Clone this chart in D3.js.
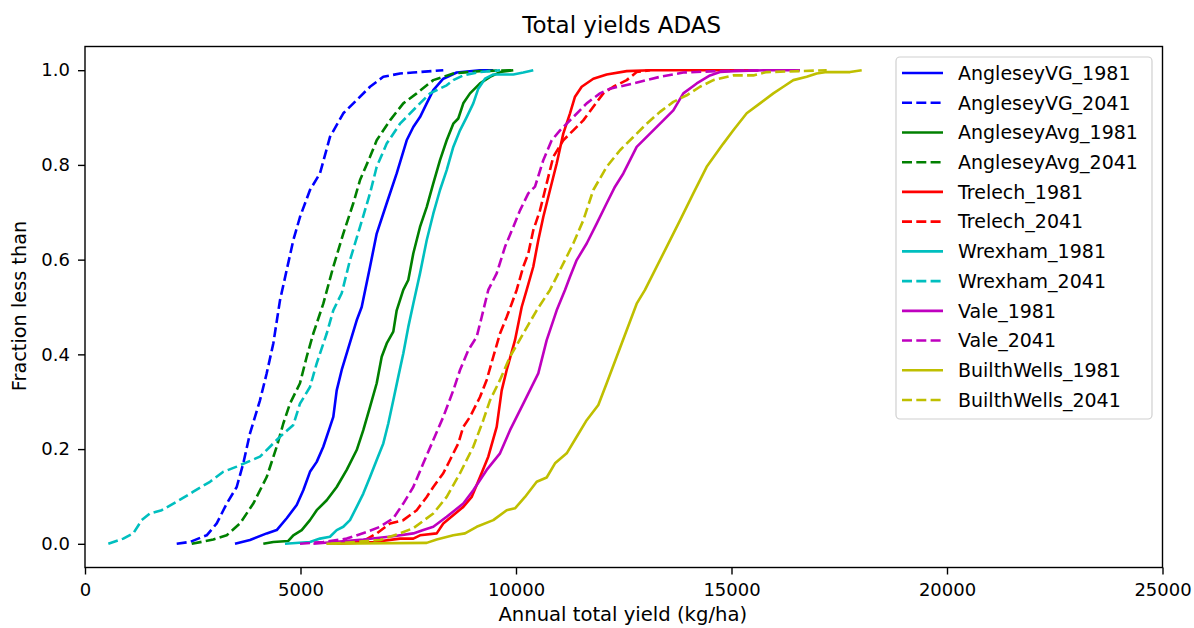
<!DOCTYPE html>
<html>
<head>
<meta charset="utf-8">
<script src="https://cdn.jsdelivr.net/npm/d3@7"></script>
<style>
  html, body { margin: 0; padding: 0; background: #fff; }
  svg { display: block; font-family: "DejaVu Sans", sans-serif; }
</style>
</head>
<body>
<svg id="chart" width="1194" height="628"></svg>
<script>
// Cumulative distributions of annual total yield: [yield kg/ha, fraction less than]
const angleseyVG1981 = [[3480,0],[3828,0.008],[4216,0.022],[4448,0.029],[4680,0.054],[4912,0.082],[5065,0.113],[5220,0.152],[5376,0.173],[5529,0.205],[5684,0.247],[5761,0.268],[5840,0.324],[5956,0.367],[6072,0.402],[6304,0.472],[6420,0.5],[6613,0.585],[6768,0.655],[7000,0.719],[7232,0.782],[7464,0.852],[7617,0.88],[7773,0.901],[7928,0.93],[8081,0.958],[8313,0.982],[8624,0.995],[9165,1],[9473,1]];
const angleseyVG2041 = [[2128,0],[2436,0.004],[2824,0.018],[3056,0.043],[3288,0.085],[3520,0.12],[3673,0.17],[3828,0.233],[4060,0.303],[4216,0.36],[4369,0.423],[4524,0.514],[4833,0.641],[4988,0.69],[5220,0.747],[5452,0.782],[5684,0.859],[5993,0.909],[6304,0.937],[6613,0.965],[6921,0.986],[7309,0.993],[7610,0.995],[8313,1]];
const angleseyAvg1981 = [[4137,0],[4369,0.004],[4717,0.006],[4833,0.018],[5028,0.029],[5220,0.05],[5376,0.071],[5608,0.092],[5840,0.12],[6072,0.156],[6304,0.198],[6457,0.24],[6613,0.289],[6768,0.339],[6884,0.395],[7000,0.423],[7153,0.448],[7232,0.493],[7385,0.536],[7501,0.557],[7617,0.613],[7773,0.669],[7928,0.711],[8081,0.761],[8237,0.81],[8392,0.852],[8545,0.887],[8661,0.898],[8777,0.93],[8933,0.951],[9165,0.972],[9397,0.986],[9629,0.996],[9937,1]];
const angleseyAvg2041 = [[2476,0],[2977,0.009],[3288,0.018],[3596,0.043],[3905,0.085],[4216,0.141],[4448,0.205],[4601,0.254],[4756,0.296],[4988,0.339],[5144,0.395],[5297,0.444],[5529,0.507],[5761,0.585],[5993,0.655],[6225,0.719],[6381,0.768],[6613,0.817],[6768,0.852],[7077,0.894],[7385,0.93],[7696,0.951],[8081,0.979],[8545,0.993],[9165,0.998],[9937,1]];
const trelech1981 = [[5840,0],[6700,0.004],[7309,0.011],[7617,0.011],[7773,0.018],[8160,0.022],[8313,0.043],[8777,0.078],[8972,0.099],[9165,0.141],[9357,0.184],[9552,0.247],[9668,0.324],[9784,0.367],[9977,0.43],[10132,0.5],[10248,0.536],[10401,0.585],[10517,0.641],[10633,0.69],[10789,0.747],[10944,0.803],[11097,0.866],[11253,0.909],[11369,0.944],[11524,0.965],[11794,0.982],[12104,0.991],[12568,0.998],[13109,1],[15622,1]];
const trelech2041 = [[5840,0],[6457,0.006],[6768,0.022],[7077,0.043],[7385,0.05],[7696,0.071],[7928,0.099],[8081,0.12],[8313,0.149],[8469,0.177],[8661,0.212],[8777,0.247],[8933,0.268],[9165,0.31],[9320,0.346],[9473,0.395],[9629,0.444],[9784,0.479],[9900,0.507],[10016,0.536],[10169,0.585],[10285,0.613],[10401,0.662],[10557,0.704],[10712,0.761],[10865,0.817],[11097,0.852],[11329,0.873],[11561,0.894],[11794,0.923],[12026,0.951],[12258,0.965],[12568,0.979],[12800,0.996],[13109,1]];
const wrexham1981 = [[4640,0],[5220,0.004],[5452,0.011],[5684,0.015],[5840,0.029],[5993,0.036],[6148,0.05],[6304,0.078],[6457,0.106],[6613,0.141],[6768,0.177],[6921,0.212],[7037,0.254],[7153,0.303],[7269,0.353],[7385,0.402],[7501,0.458],[7617,0.507],[7773,0.571],[7928,0.641],[8081,0.697],[8237,0.747],[8392,0.789],[8545,0.838],[8701,0.873],[8856,0.901],[9009,0.93],[9125,0.961],[9281,0.982],[9473,0.991],[9937,0.991],[10169,0.995],[10401,1]];
const wrexham2041 = [[541,0],[889,0.011],[1121,0.022],[1316,0.05],[1508,0.064],[1780,0.071],[2128,0.089],[2513,0.11],[2900,0.131],[3209,0.152],[3520,0.163],[4060,0.184],[4292,0.205],[4524,0.226],[4833,0.251],[4988,0.296],[5220,0.331],[5376,0.381],[5608,0.444],[5761,0.493],[5956,0.529],[6148,0.599],[6381,0.669],[6613,0.74],[6768,0.796],[7000,0.845],[7309,0.887],[7696,0.923],[8005,0.951],[8392,0.968],[8545,0.979],[8777,0.989],[9165,0.996],[9629,1]];
const vale1981 = [[5300,0],[6457,0.009],[7153,0.016],[7617,0.022],[7849,0.029],[8081,0.036],[8392,0.057],[8777,0.085],[9009,0.113],[9320,0.156],[9629,0.191],[9861,0.24],[10169,0.296],[10517,0.36],[10712,0.43],[10944,0.493],[11137,0.536],[11253,0.564],[11408,0.599],[11640,0.634],[11872,0.676],[12104,0.719],[12297,0.754],[12490,0.782],[12645,0.81],[12800,0.838],[13109,0.866],[13418,0.894],[13650,0.915],[13882,0.951],[14193,0.972],[14501,0.989],[14733,0.996],[15042,0.998],[15816,1],[16589,1]];
const vale2041 = [[4988,0],[5529,0.004],[6072,0.011],[6536,0.025],[6845,0.036],[7153,0.054],[7385,0.085],[7617,0.12],[7849,0.17],[8081,0.219],[8313,0.268],[8545,0.324],[8701,0.367],[8893,0.409],[9088,0.437],[9204,0.479],[9357,0.536],[9552,0.571],[9745,0.627],[9937,0.669],[10093,0.704],[10285,0.74],[10441,0.754],[10633,0.81],[10828,0.852],[11021,0.873],[11329,0.901],[11640,0.93],[11949,0.951],[12181,0.961],[12722,0.972],[13341,0.986],[13882,0.995],[14657,0.998],[15893,1]];
const builthWells1981 = [[5600,0],[7928,0.002],[8160,0.009],[8545,0.018],[8817,0.022],[9088,0.036],[9473,0.05],[9784,0.071],[9977,0.075],[10209,0.099],[10480,0.131],[10712,0.14],[10905,0.17],[11176,0.191],[11408,0.226],[11640,0.261],[11910,0.293],[12104,0.339],[12336,0.395],[12568,0.451],[12800,0.507],[12993,0.536],[13186,0.571],[13496,0.627],[13805,0.683],[14114,0.74],[14424,0.796],[14810,0.845],[15042,0.873],[15353,0.909],[15661,0.93],[15970,0.951],[16202,0.965],[16434,0.979],[16745,0.986],[16977,0.993],[17209,0.996],[17749,0.996],[18021,1]];
const builthWells2041 = [[5700,0],[6845,0.008],[7309,0.022],[7617,0.033],[8081,0.064],[8392,0.099],[8701,0.149],[9009,0.205],[9241,0.261],[9397,0.303],[9629,0.346],[9861,0.395],[10169,0.444],[10480,0.493],[10789,0.536],[11021,0.578],[11329,0.634],[11561,0.683],[11794,0.747],[12104,0.796],[12413,0.831],[12722,0.859],[13032,0.887],[13341,0.912],[13650,0.933],[13961,0.947],[14269,0.965],[14578,0.979],[15042,0.989],[15506,0.989],[15816,0.996],[16589,0.998],[17209,1]];

const seriesNames = ["AngleseyVG_1981","AngleseyVG_2041","AngleseyAvg_1981","AngleseyAvg_2041","Trelech_1981","Trelech_2041","Wrexham_1981","Wrexham_2041","Vale_1981","Vale_2041","BuilthWells_1981","BuilthWells_2041"];
const seriesValues = [angleseyVG1981, angleseyVG2041, angleseyAvg1981, angleseyAvg2041, trelech1981, trelech2041, wrexham1981, wrexham2041, vale1981, vale2041, builthWells1981, builthWells2041];
const xTicks = [0, 5000, 10000, 15000, 20000, 25000];
const yTicks = [0.0, 0.2, 0.4, 0.6, 0.8, 1.0];

// One colour per site, solid for 1981 and dashed for 2041
const siteColors = ["#0000ff", "#008000", "#ff0000", "#00bfbf", "#bf00bf", "#bfbf00"];
const colorOf = i => siteColors[Math.floor(i / 2)];
const dashOf = i => (i % 2 === 1 ? "10,4.3" : null);

const svg = d3.select("#chart");
const plot = { left: 85, right: 1162.5, top: 46.5, bottom: 567.5 };

const x = d3.scaleLinear().domain([0, 25000]).range([plot.left, plot.right]);
const y = d3.scaleLinear().domain([-0.05, 1.05]).range([plot.bottom, plot.top]);

svg.append("defs").append("clipPath").attr("id", "plot-clip")
  .append("rect")
  .attr("x", plot.left).attr("y", plot.top)
  .attr("width", plot.right - plot.left).attr("height", plot.bottom - plot.top);

const line = d3.line().x(d => x(d[0])).y(d => y(d[1]));

svg.append("g").attr("clip-path", "url(#plot-clip)")
  .selectAll("path")
  .data(seriesValues)
  .join("path")
  .attr("d", line)
  .attr("fill", "none")
  .attr("stroke", (d, i) => colorOf(i))
  .attr("stroke-width", 2.6)
  .attr("stroke-dasharray", (d, i) => dashOf(i))
  .attr("stroke-linejoin", "round");

// Axes
const xAxis = svg.append("g")
  .attr("transform", `translate(0,${plot.bottom})`)
  .call(d3.axisBottom(x).tickValues(xTicks).tickFormat(d3.format("d")).tickSize(7).tickPadding(8.5).tickSizeOuter(0));
const yAxis = svg.append("g")
  .attr("transform", `translate(${plot.left},0)`)
  .call(d3.axisLeft(y).tickValues(yTicks).tickFormat(d3.format(".1f")).tickSize(7).tickPadding(8).tickSizeOuter(0));

[xAxis, yAxis].forEach(a => {
  a.select(".domain").remove();
  a.selectAll(".tick line").attr("stroke", "#000").attr("stroke-width", 1.4);
  a.selectAll(".tick text").attr("fill", "#000").style("font-size", "18px").style("font-family", "DejaVu Sans");
});

// Frame around the plotting area
svg.append("rect")
  .attr("x", plot.left).attr("y", plot.top)
  .attr("width", plot.right - plot.left).attr("height", plot.bottom - plot.top)
  .attr("fill", "none").attr("stroke", "#000").attr("stroke-width", 1.4);

// Title and axis labels
svg.append("text")
  .attr("x", (plot.left + plot.right) / 2 - 2).attr("y", 33)
  .attr("text-anchor", "middle")
  .style("font-size", "23px")
  .text("Total yields ADAS");

svg.append("text")
  .attr("x", (plot.left + plot.right) / 2 - 1).attr("y", 621)
  .attr("text-anchor", "middle")
  .style("font-size", "19.6px")
  .text("Annual total yield (kg/ha)");

svg.append("text")
  .attr("transform", `translate(26,${(plot.top + plot.bottom) / 2 - 1}) rotate(-90)`)
  .attr("text-anchor", "middle")
  .style("font-size", "19.3px")
  .text("Fraction less than");

// Legend
const legend = svg.append("g");
legend.append("rect")
  .attr("x", 896).attr("y", 57).attr("width", 256).attr("height", 362)
  .attr("rx", 4).attr("ry", 4)
  .attr("fill", "#fff").attr("fill-opacity", 0.8)
  .attr("stroke", "#d0d0d0").attr("stroke-width", 1.2);

const rowY = i => 73 + i * 29.73;
const rows = legend.selectAll("g.row")
  .data(seriesNames)
  .join("g")
  .attr("class", "row")
  .attr("transform", (d, i) => `translate(0,${rowY(i)})`);
rows.append("line")
  .attr("x1", 902).attr("x2", 943).attr("y1", 0).attr("y2", 0)
  .attr("stroke", (d, i) => colorOf(i))
  .attr("stroke-width", 2.6)
  .attr("stroke-dasharray", (d, i) => dashOf(i));
rows.append("text")
  .attr("x", 958).attr("y", 0).attr("dy", "0.36em")
  .style("font-size", "19px")
  .text(d => d);
</script>
</body>
</html>
